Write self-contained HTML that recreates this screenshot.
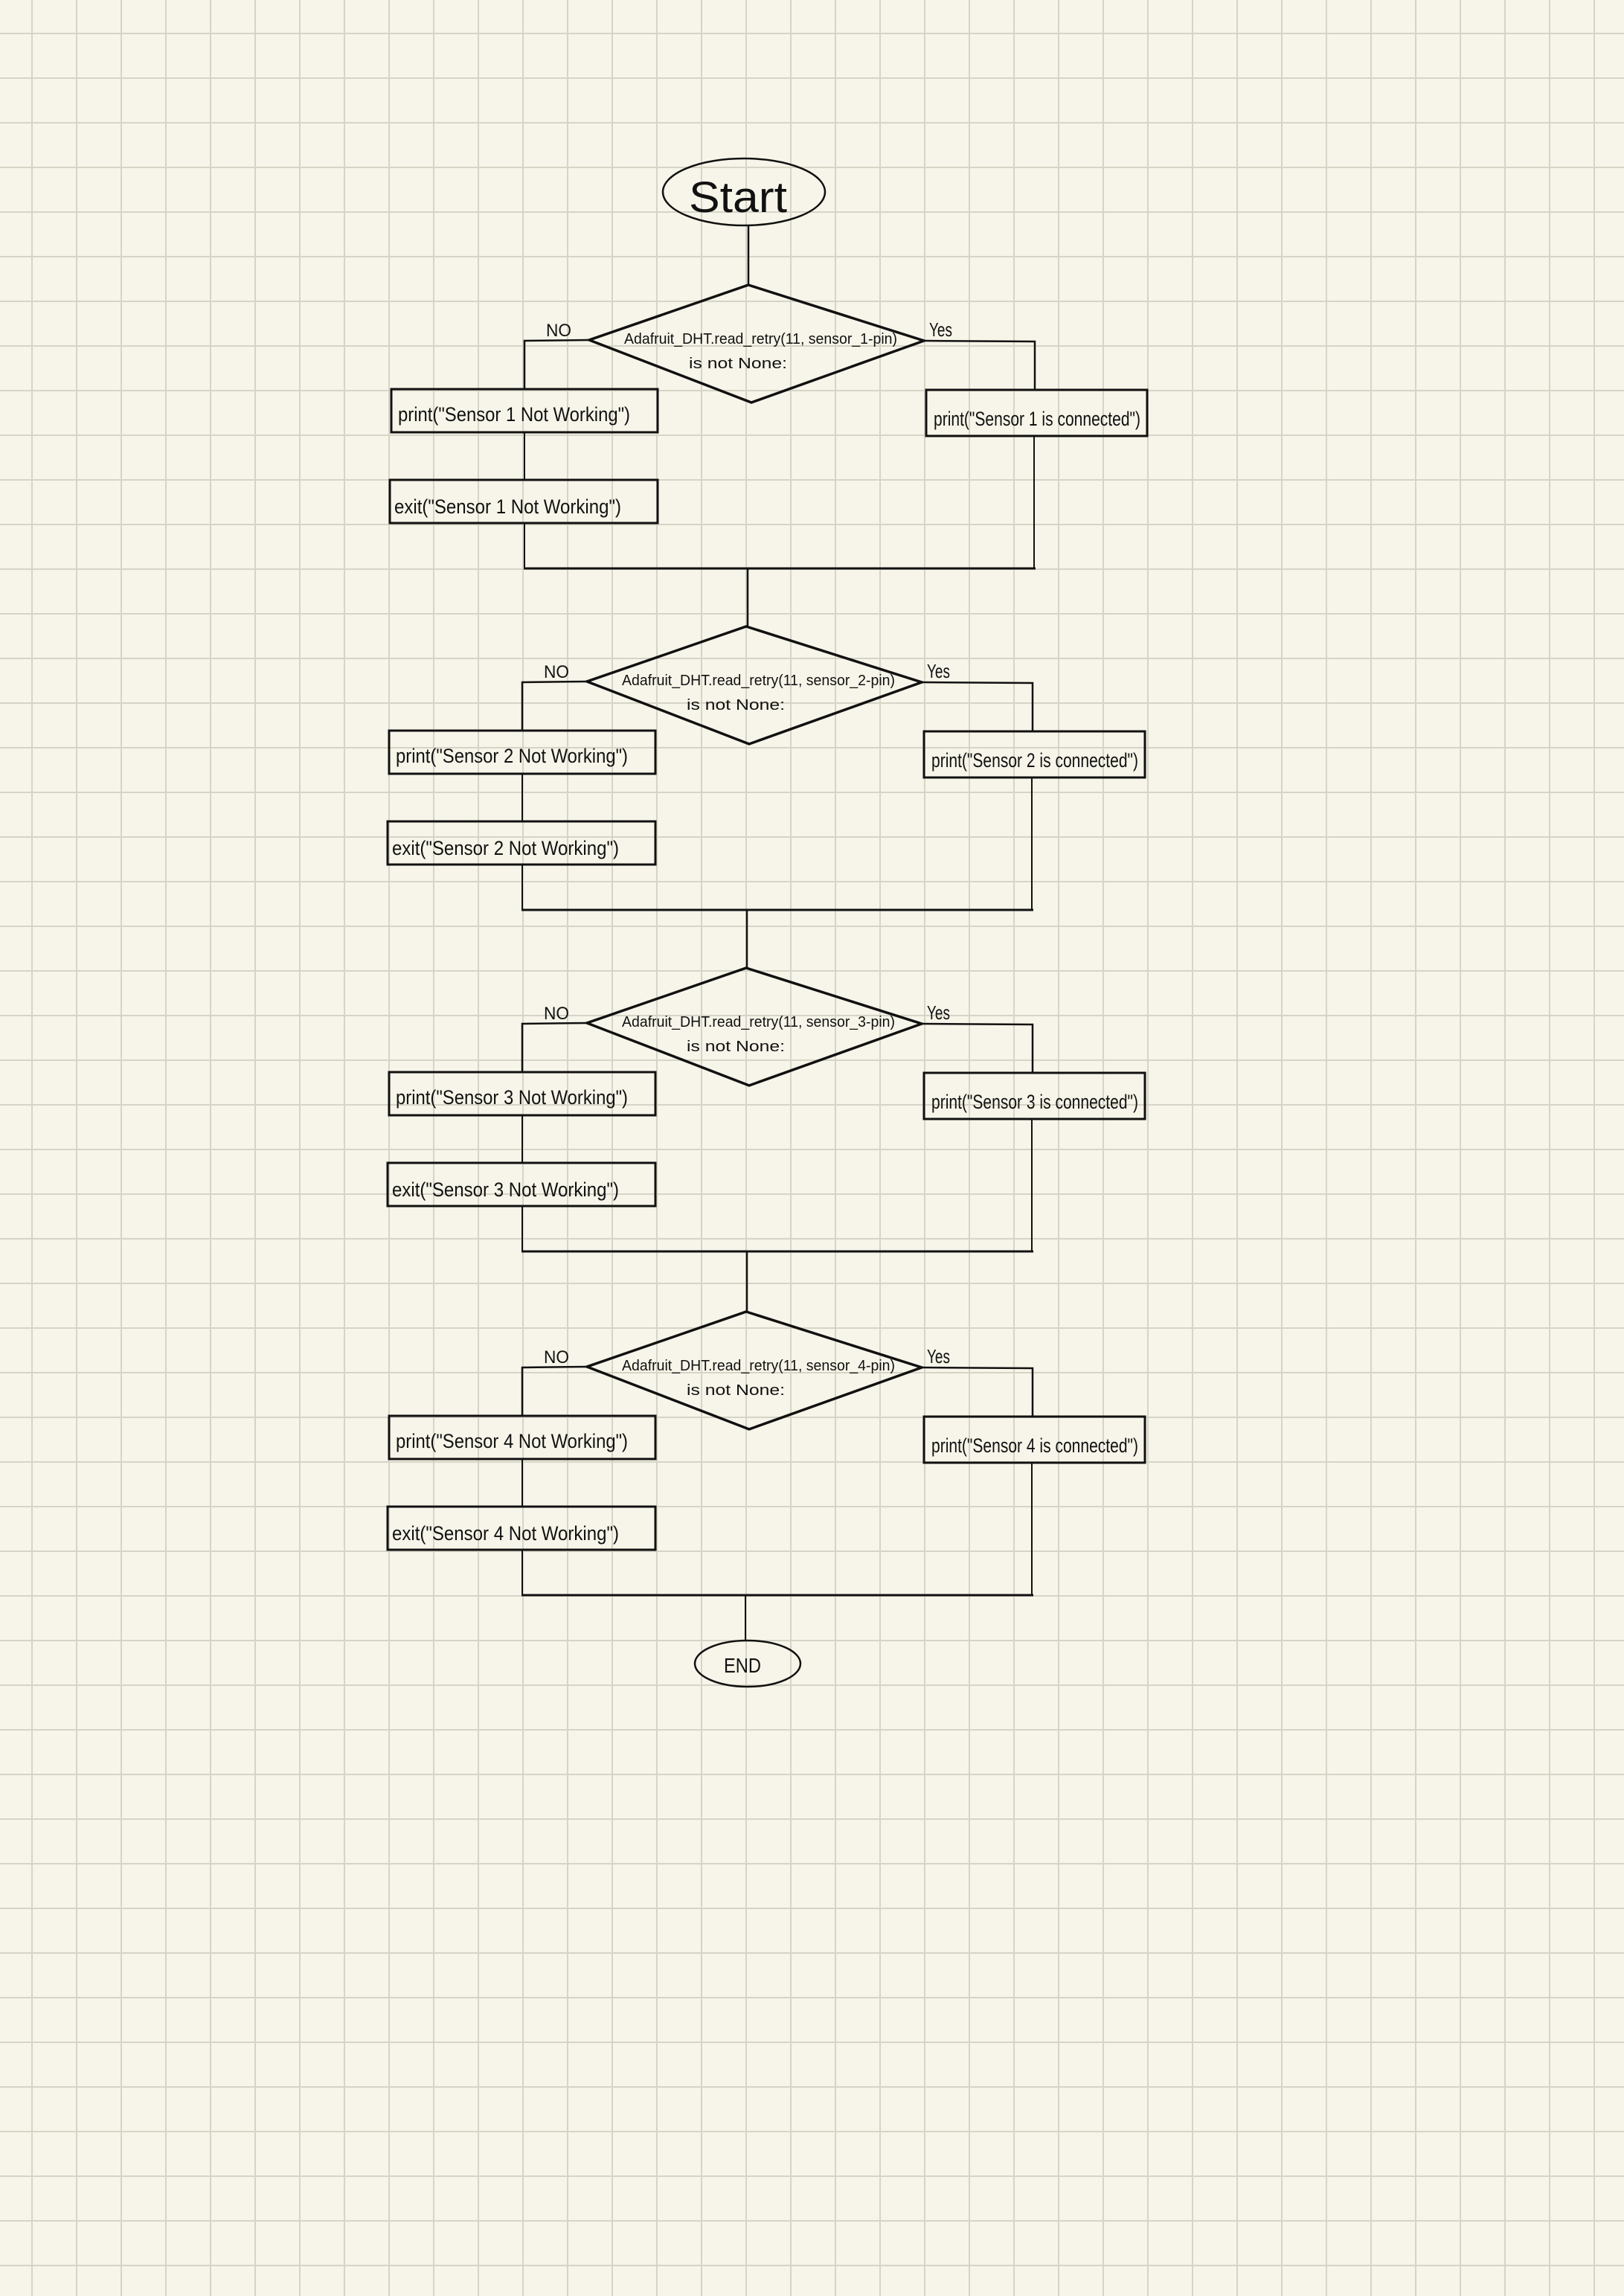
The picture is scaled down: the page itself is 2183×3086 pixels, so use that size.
<!DOCTYPE html>
<html><head><meta charset="utf-8"><style>
html,body{margin:0;padding:0;background:#f7f5e9;}
svg{display:block;}
text{font-family:"Liberation Sans",sans-serif;fill:#111;}
</style></head><body>
<svg width="2183" height="3086" viewBox="0 0 2183 3086" xmlns="http://www.w3.org/2000/svg">
<defs>
<pattern id="g" x="42" y="44" width="60" height="60" patternUnits="userSpaceOnUse">
<path d="M1 0V60M0 1H60" stroke="#d6d4c6" stroke-width="2" fill="none"/>
</pattern>
<g id="blk">
<!-- diamond -->
<polygon points="1006,383 1242,458 1010,541 792,457" fill="none" stroke="#111" stroke-width="3.5"/>
<!-- NO branch -->
<polyline points="792,457 705,458 705,523" fill="none" stroke="#111" stroke-width="2.5"/>
<rect x="526" y="523" width="358" height="58" fill="none" stroke="#111" stroke-width="3"/>
<line x1="705" y1="581" x2="705" y2="645" stroke="#111" stroke-width="2"/>
<rect x="524" y="645" width="360" height="58" fill="none" stroke="#111" stroke-width="3"/>
<line x1="705" y1="703" x2="705" y2="764" stroke="#111" stroke-width="2"/>
<!-- Yes branch -->
<polyline points="1242,458 1391,459 1391,524" fill="none" stroke="#111" stroke-width="2.5"/>
<rect x="1245" y="524" width="297" height="62" fill="none" stroke="#111" stroke-width="3"/>
<line x1="1390" y1="586" x2="1390" y2="764" stroke="#111" stroke-width="2"/>
<line x1="704" y1="764" x2="1392" y2="764" stroke="#111" stroke-width="3"/>
<text x="734" y="452" font-size="24" textLength="34" lengthAdjust="spacingAndGlyphs">NO</text>
<text x="1249" y="452" font-size="26" textLength="31" lengthAdjust="spacingAndGlyphs">Yes</text>
</g>
</defs>
<rect width="2183" height="3086" fill="#f7f5e9"/>
<rect width="2183" height="3086" fill="url(#g)"/>

<!-- Start -->
<ellipse cx="1000" cy="258" rx="109" ry="45" fill="none" stroke="#111" stroke-width="2.5"/>
<text x="926" y="285" font-size="58" textLength="132" lengthAdjust="spacingAndGlyphs">Start</text>
<line x1="1006" y1="304" x2="1006" y2="383" stroke="#111" stroke-width="2.5"/>

<!-- Block 1 -->
<use href="#blk"/>
<text x="839" y="462" font-size="20" textLength="367" lengthAdjust="spacingAndGlyphs">Adafruit_DHT.read_retry(11, sensor_1-pin)</text>
<text x="926" y="495" font-size="20" textLength="132" lengthAdjust="spacingAndGlyphs">is  not  None:</text>
<text x="535" y="566" font-size="27" textLength="312" lengthAdjust="spacingAndGlyphs">print("Sensor 1  Not Working")</text>
<text x="530" y="690" font-size="27" textLength="305" lengthAdjust="spacingAndGlyphs">exit("Sensor 1 Not Working")</text>
<text x="1255" y="572" font-size="27" textLength="278" lengthAdjust="spacingAndGlyphs">print("Sensor 1 is connected")</text>
<line x1="1005" y1="764" x2="1005" y2="842" stroke="#111" stroke-width="2.5"/>

<!-- Block 2 -->
<g transform="translate(-3,459)"><use href="#blk"/></g>
<text x="836" y="921" font-size="20" textLength="367" lengthAdjust="spacingAndGlyphs">Adafruit_DHT.read_retry(11, sensor_2-pin)</text>
<text x="923" y="954" font-size="20" textLength="132" lengthAdjust="spacingAndGlyphs">is  not  None:</text>
<text x="532" y="1025" font-size="27" textLength="312" lengthAdjust="spacingAndGlyphs">print("Sensor 2  Not Working")</text>
<text x="527" y="1149" font-size="27" textLength="305" lengthAdjust="spacingAndGlyphs">exit("Sensor 2 Not Working")</text>
<text x="1252" y="1031" font-size="27" textLength="278" lengthAdjust="spacingAndGlyphs">print("Sensor 2 is connected")</text>
<line x1="1004" y1="1223" x2="1004" y2="1301" stroke="#111" stroke-width="2.5"/>

<!-- Block 3 -->
<g transform="translate(-3,918)"><use href="#blk"/></g>
<text x="836" y="1380" font-size="20" textLength="367" lengthAdjust="spacingAndGlyphs">Adafruit_DHT.read_retry(11, sensor_3-pin)</text>
<text x="923" y="1413" font-size="20" textLength="132" lengthAdjust="spacingAndGlyphs">is  not  None:</text>
<text x="532" y="1484" font-size="27" textLength="312" lengthAdjust="spacingAndGlyphs">print("Sensor 3  Not Working")</text>
<text x="527" y="1608" font-size="27" textLength="305" lengthAdjust="spacingAndGlyphs">exit("Sensor 3 Not Working")</text>
<text x="1252" y="1490" font-size="27" textLength="278" lengthAdjust="spacingAndGlyphs">print("Sensor 3 is connected")</text>
<line x1="1004" y1="1682" x2="1004" y2="1762" stroke="#111" stroke-width="2.5"/>

<!-- Block 4 -->
<g transform="translate(-3,1380)"><use href="#blk"/></g>
<text x="836" y="1842" font-size="20" textLength="367" lengthAdjust="spacingAndGlyphs">Adafruit_DHT.read_retry(11, sensor_4-pin)</text>
<text x="923" y="1875" font-size="20" textLength="132" lengthAdjust="spacingAndGlyphs">is  not  None:</text>
<text x="532" y="1946" font-size="27" textLength="312" lengthAdjust="spacingAndGlyphs">print("Sensor 4  Not Working")</text>
<text x="527" y="2070" font-size="27" textLength="305" lengthAdjust="spacingAndGlyphs">exit("Sensor 4 Not Working")</text>
<text x="1252" y="1952" font-size="27" textLength="278" lengthAdjust="spacingAndGlyphs">print("Sensor 4 is connected")</text>

<!-- End -->
<line x1="1002" y1="2144" x2="1002" y2="2205" stroke="#111" stroke-width="2"/>
<ellipse cx="1005" cy="2236" rx="71" ry="31" fill="none" stroke="#111" stroke-width="2.5"/>
<text x="973" y="2248" font-size="28" textLength="50" lengthAdjust="spacingAndGlyphs">END</text>
</svg>
</body></html>
